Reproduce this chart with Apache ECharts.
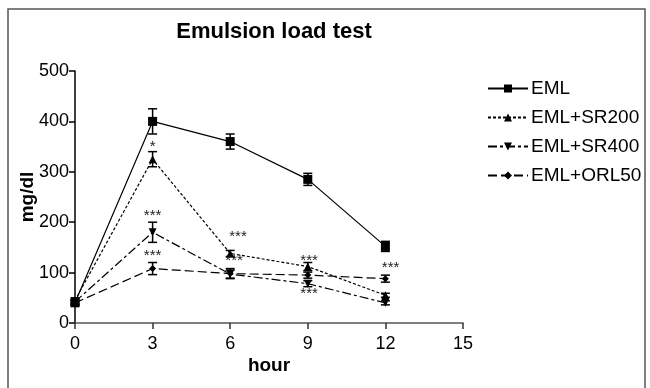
<!DOCTYPE html>
<html>
<head>
<meta charset="utf-8">
<script src="https://cdn.jsdelivr.net/npm/echarts@6/dist/echarts.min.js"></script>
<style>
  html, body { margin: 0; padding: 0; background: #fff; }
  #chart { width: 650px; height: 388px; }
</style>
</head>
<body>
<div id="chart"></div>
<script>
// data
const hours = [0, 3, 6, 9, 12]
const seriesNames = ['EML', 'EML+SR200', 'EML+SR400', 'EML+ORL50']
const emlMean = [40, 400, 360, 285, 152]
const emlErr = [5, 25, 15, 12, 10]
const sr200Mean = [45, 325, 138, 112, 55]
const sr200Err = [5, 15, 6, 8, 4]
const sr400Mean = [42, 180, 97, 78, 40]
const sr400Err = [4, 20, 8, 6, 4]
const orlMean = [40, 108, 98, 95, 88]
const orlErr = [4, 12, 10, 6, 7]

// significance marks
const starX = [3, 3, 3, 6.3, 6.15, 9.05, 9.05, 12.2]
const starY = [350, 212, 133, 171, 124, 123, 57, 109]
const starText = ['*', '***', '***', '***', '***', '***', '***', '***']

const xTicks = [0, 3, 6, 9, 12, 15]
const yTicks = [0, 100, 200, 300, 400, 500]

const chartInstance = echarts.init(document.getElementById('chart'))

const pairs = (ys) => hours.map((h, i) => [h, ys[i]])
const errData = (ys, es) => hours.map((h, i) => [h, ys[i] - es[i], ys[i] + es[i]])

const errorSeries = (ys, es) => ({
  type: 'custom',
  data: errData(ys, es),
  silent: true,
  z: 3,
  renderItem: (params, api) => {
    const lo = api.coord([api.value(0), api.value(1)])
    const hi = api.coord([api.value(0), api.value(2)])
    const w = 4.5
    const st = { stroke: '#000', lineWidth: 1.5 }
    return {
      type: 'group',
      children: [
        { type: 'line', shape: { x1: lo[0], y1: lo[1], x2: hi[0], y2: hi[1] }, style: st },
        { type: 'line', shape: { x1: lo[0] - w, y1: lo[1], x2: lo[0] + w, y2: lo[1] }, style: st },
        { type: 'line', shape: { x1: hi[0] - w, y1: hi[1], x2: hi[0] + w, y2: hi[1] }, style: st }
      ]
    }
  }
})

const lineSeries = (name, ys, symbol, size, dash, rotate) => ({
  name: name,
  type: 'line',
  data: pairs(ys),
  symbol: symbol,
  symbolSize: size,
  symbolRotate: rotate || 0,
  showAllSymbol: true,
  z: 4,
  itemStyle: { color: '#000' },
  lineStyle: { color: '#000', width: 1.2, type: dash },
  emphasis: { disabled: true }
})

const option = {
  animation: false,
  textStyle: { fontFamily: 'Liberation Sans, Arial, sans-serif' },
  graphic: [{
    type: 'rect',
    shape: { x: 8, y: 9, width: 637, height: 390 },
    style: { fill: 'none', stroke: '#555', lineWidth: 1.5 },
    silent: true
  }],
  title: {
    text: 'Emulsion load test',
    left: 269,
    textAlign: 'center',
    top: 16,
    textStyle: { fontSize: 22, fontWeight: 'bold', color: '#000' }
  },
  legend: {
    data: seriesNames,
    orient: 'vertical',
    left: 482,
    top: 74,
    itemWidth: 40,
    itemHeight: 10,
    itemGap: 10,
    textStyle: { fontSize: 19, color: '#000', padding: [0, 0, 0, -2] }
  },
  grid: { left: 75, right: 187, top: 71, bottom: 65 },
  xAxis: {
    type: 'value',
    min: 0,
    max: 15,
    interval: 3,
    name: 'hour',
    nameLocation: 'middle',
    nameGap: 33,
    nameMoveOverlap: false,
    nameTextStyle: { fontSize: 19, fontWeight: 'bold', color: '#000' },
    axisLine: { onZero: false, lineStyle: { color: '#555', width: 1.5 } },
    axisTick: { show: true, length: 6, lineStyle: { color: '#333', width: 1.5 } },
    axisLabel: { fontSize: 18, color: '#000', margin: 12, formatter: (v) => xTicks.includes(v) ? String(v) : '' },
    splitLine: { show: false }
  },
  yAxis: {
    type: 'value',
    min: 0,
    max: 500,
    interval: 100,
    name: 'mg/dl',
    nameLocation: 'middle',
    nameGap: 38,
    nameMoveOverlap: false,
    nameTextStyle: { fontSize: 19, fontWeight: 'bold', color: '#000' },
    axisLine: { show: true, lineStyle: { color: '#000', width: 1.5 } },
    axisTick: { show: true, length: 6, lineStyle: { color: '#000', width: 1.5 } },
    axisLabel: { fontSize: 18, color: '#000', margin: 6, formatter: (v) => yTicks.includes(v) ? String(v) : '' },
    splitLine: { show: false }
  },
  series: [
    lineSeries('EML', emlMean, 'rect', 9, 'solid'),
    lineSeries('EML+SR200', sr200Mean, 'triangle', 8, [3, 2]),
    lineSeries('EML+SR400', sr400Mean, 'triangle', 8, [9, 3, 3, 3], 180),
    lineSeries('EML+ORL50', orlMean, 'diamond', 7, [9, 4]),
    errorSeries(emlMean, emlErr),
    errorSeries(sr200Mean, sr200Err),
    errorSeries(sr400Mean, sr400Err),
    errorSeries(orlMean, orlErr),
    {
      type: 'custom',
      silent: true,
      z: 5,
      data: starX.map((x, i) => [x, starY[i], starText[i]]),
      renderItem: (params, api) => {
        const p = api.coord([api.value(0), api.value(1)])
        return {
          type: 'text',
          x: p[0],
          y: p[1],
          style: {
            text: starText[params.dataIndex],
            fill: '#222',
            fontSize: 15,
            fontFamily: 'Liberation Sans, Arial, sans-serif',
            align: 'center',
            verticalAlign: 'middle'
          }
        }
      }
    }
  ]
}

chartInstance.setOption(option)
</script>
</body>
</html>
